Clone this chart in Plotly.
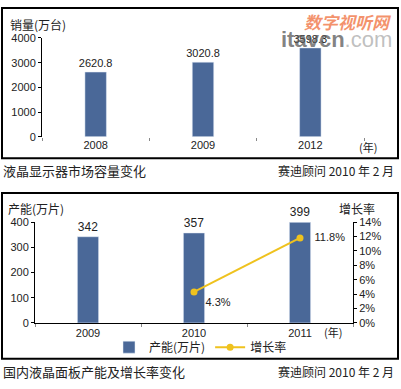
import plotly.graph_objects as go

# ---- data ----
top_years = ["2008", "2009", "2012"]
top_sales = [2620.8, 3020.8, 3598.3]
top_labels = ["2620.8", "3020.8", "3598.3"]

bot_years = ["2009", "2010", "2011"]
bot_capacity = [342, 357, 399]
growth_years = ["2010", "2011"]
growth_rate = [4.3, 11.8]
growth_labels = ["  4.3%", "   11.8%"]

W, H = 401, 389
BAR = "#4A6898"
LINE = "#EFC21E"
FONT = "Liberation Sans, Noto Sans CJK SC, sans-serif"
CJK = "Noto Sans CJK SC, sans-serif"

def px(x):
    return x / W

def py(y):
    return 1 - y / H

fig = go.Figure()

fig.add_trace(go.Bar(
    x=top_years, y=top_sales, xaxis="x", yaxis="y",
    marker_color=BAR, width=0.2, text=top_labels, textposition="outside",
    constraintext="none",
    textfont=dict(size=11, color="#222"), cliponaxis=False, showlegend=False,
))

fig.add_trace(go.Bar(
    x=bot_years, y=bot_capacity, xaxis="x2", yaxis="y2",
    marker_color=BAR, width=0.2, text=[str(v) for v in bot_capacity],
    textposition="outside", constraintext="none",
    textfont=dict(size=12, color="#222"),
    cliponaxis=False, name="产能(万片)",
))

fig.add_trace(go.Scatter(
    x=growth_years, y=growth_rate, xaxis="x2", yaxis="y3",
    mode="lines+markers+text", line=dict(color=LINE, width=2),
    marker=dict(color=LINE, size=7), text=growth_labels,
    textposition=["bottom right", "middle right"],
    textfont=dict(size=11, color="#222"), cliponaxis=False, name="增长率",
))

axis_common = dict(showgrid=False, zeroline=False, tickfont=dict(size=11, color="#222", family=FONT))

fig.update_layout(
    width=W, height=H,
    margin=dict(l=0, r=0, t=0, b=0),
    paper_bgcolor="white", plot_bgcolor="white",
    font=dict(family=FONT, size=11, color="#222"),
    xaxis=dict(domain=[px(42), px(364)], anchor="y", type="category",
               showline=False, ticks="outside", tickson="boundaries", ticklen=3,
               tickcolor="#888", **axis_common),
    yaxis=dict(domain=[py(135), py(33)], anchor="x", range=[0, 4000], dtick=1000,
               showline=True, linecolor="black", linewidth=1, ticks="outside",
               ticklen=3, tickcolor="black", **axis_common),
    xaxis2=dict(domain=[px(35), px(353)], anchor="y2", type="category",
                showline=True, linecolor="black", linewidth=1, ticks="outside",
                tickson="boundaries", ticklen=3, tickcolor="#888", **axis_common),
    yaxis2=dict(domain=[py(327), py(223)], anchor="x2", range=[0, 400], dtick=100,
                showline=True, linecolor="black", linewidth=1, ticks="outside",
                ticklen=3, tickcolor="black", **axis_common),
    yaxis3=dict(overlaying="y2", side="right", anchor="x2", range=[0, 14], dtick=2,
                ticksuffix="%", showline=True, linecolor="black", linewidth=1,
                ticks="outside", ticklen=3, tickcolor="black", **axis_common),
    legend=dict(orientation="h", x=0.5, xanchor="center", y=py(352), yanchor="middle",
                font=dict(size=12, family=CJK, color="#222"), bgcolor="rgba(0,0,0,0)",
                itemwidth=30, tracegroupgap=0),
    bargap=0.8,
)

shapes = [
    dict(type="rect", xref="paper", yref="paper", x0=px(2), x1=px(398), y0=py(157), y1=py(2),
         line=dict(color="black", width=2)),
    dict(type="rect", xref="paper", yref="paper", x0=px(2), x1=px(398), y0=py(364), y1=py(193),
         line=dict(color="black", width=2)),
]
fig.update_layout(shapes=shapes)

def ann(text, x, y, xanchor="left", size=11, color="#222", family=CJK, **kw):
    fig.add_annotation(text=text, xref="paper", yref="paper", x=px(x), y=py(y),
                       xanchor=xanchor, yanchor="middle", showarrow=False,
                       font=dict(size=size, color=color, family=family), **kw)

ann("销量(万台)", 8, 19, size=12)
ann("(年)", 368, 146, xanchor="center", size=11)
ann("液晶显示器市场容量变化", 1, 170, size=13)
ann("赛迪顾问 2010 年 2 月", 396, 170, xanchor="right", size=12)

ann("产能(万片)", 6, 209, size=12)
ann("增长率", 357, 209, xanchor="center", size=12)
ann("(年)", 333, 336, xanchor="center", size=11)
ann("国内液晶面板产能及增长率变化", 1, 377, size=13)
ann("赛迪顾问 2010 年 2 月", 396, 377, xanchor="right", size=12)

# watermark
ann("<i><b>数字视听网</b></i>", 394, 16, xanchor="right", size=17, color="rgba(240,110,60,0.75)")
ann("<b>itavcn</b><span style='color:rgba(150,150,150,0.8)'>.com</span>", 394, 35,
    xanchor="right", size=22, color="rgba(90,90,90,0.75)", family="Liberation Sans, sans-serif")

fig.write_html(
    "out.html",
    config={"displayModeBar": False},
    post_script="document.body.style.margin='0';document.body.style.overflow='hidden';",
)
